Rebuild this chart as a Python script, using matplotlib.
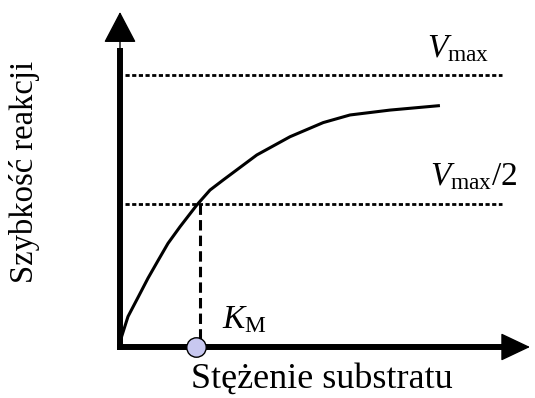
import matplotlib
matplotlib.use('Agg')
import matplotlib.pyplot as plt

# czcionka podobna do Times New Roman
plt.rcParams['font.family'] = ['Liberation Serif', 'DejaVu Serif']
plt.rcParams['mathtext.fontset'] = 'custom'
plt.rcParams['mathtext.rm'] = 'Liberation Serif'
plt.rcParams['mathtext.it'] = 'Liberation Serif:italic'

# krzywa Michaelisa-Mentena (Km = 1, Vmax = 1)
stezenie = [0.0, 0.02, 0.10, 0.23, 0.35, 0.48, 0.60, 0.75, 0.96, 1.125,
            1.29, 1.71, 2.125, 2.54, 2.875, 3.375, 3.98]
szybkosc = [0.0, 0.038, 0.112, 0.185, 0.253, 0.32, 0.381, 0.442, 0.522, 0.577,
            0.614, 0.706, 0.773, 0.825, 0.853, 0.871, 0.887]
vmax = 1.0
vmax_pol = 0.526
km = 1.0

fig = plt.figure(figsize=(5.35, 3.98), dpi=100)
ax = fig.add_axes([0, 0, 1, 1])
ax.set_xlim(-1.5, 5.1875)
ax.set_ylim(-0.1875, 1.2757)
ax.axis('off')

# osie ze strzalkami
ax.plot([-0.04, 4.85], [0, 0], color='k', lw=4.3, solid_capstyle='butt')
ax.plot([0, 0], [-0.01, 1.1], color='k', lw=4.3, solid_capstyle='butt')
ax.annotate('', xy=(5.125, 0), xytext=(4.7, 0),
            arrowprops=dict(arrowstyle='-|>,head_length=19,head_width=9',
                            mutation_scale=1, lw=1, fc='k', ec='k',
                            shrinkA=0, shrinkB=0))
ax.annotate('', xy=(0, 1.2316), xytext=(0, 1.05),
            arrowprops=dict(arrowstyle='-|>,head_length=20,head_width=10.5',
                            mutation_scale=1, lw=1, fc='k', ec='k',
                            shrinkA=0, shrinkB=0))

# linie Vmax i Vmax/2
ax.plot([0.06, 4.775], [vmax, vmax], color='k', lw=2, dashes=(1.5, 0.9))
ax.plot([0.06, 4.775], [vmax_pol, vmax_pol], color='k', lw=2, dashes=(1.5, 0.9))

# krzywa
ax.plot(stezenie, szybkosc, color='k', lw=2.2, solid_joinstyle='round')

# Km
ax.plot([km, km], [vmax_pol, 0], color='k', lw=2.2, dashes=(3.4, 1.7))
ax.plot([0.95], [0], marker='o', ms=14, mfc='#c8c8f0', mec='k', mew=1, zorder=5)

# opisy
ax.text(3.84, 1.066, r'$V_{\mathrm{max}}$', fontsize=24, ha='left', va='baseline')
ax.text(3.875, 0.596, r'$V_{\mathrm{max}}/2$', fontsize=24, ha='left', va='baseline')
ax.text(1.275, 0.07, r'$K_{\mathrm{M}}$', fontsize=24, ha='left', va='baseline')
ax.text(2.525, -0.151, 'Stężenie substratu', fontsize=26, ha='center', va='baseline')
ax.text(-1.1875, 0.643, 'Szybkość reakcji', fontsize=23.5, ha='center', va='center',
        rotation=90)

fig.savefig('out.png', dpi=100)
